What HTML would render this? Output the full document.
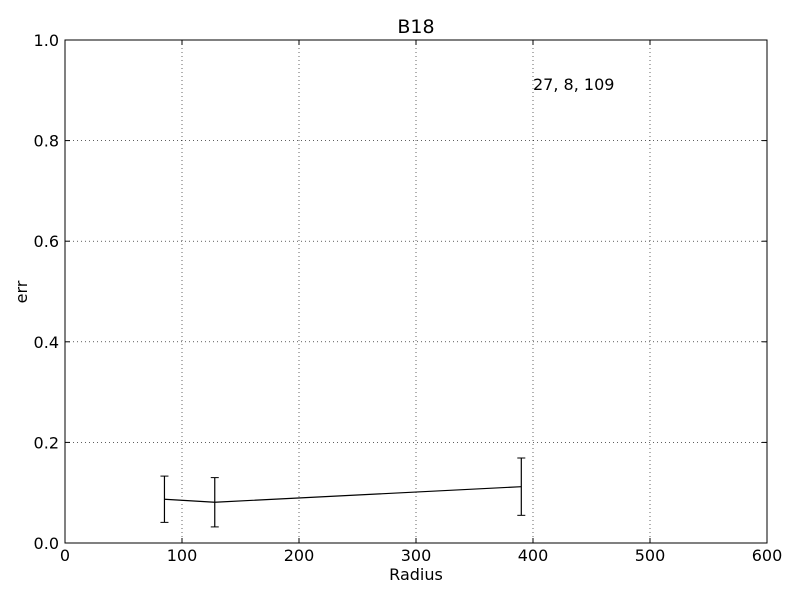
<!DOCTYPE html>
<html><head><meta charset="utf-8"><style>
body{margin:0;background:#fff;}
svg{display:block;font-family:"DejaVu Sans","Liberation Sans",sans-serif;}
</style></head><body>
<svg id="chart" width="800" height="600">
<rect width="800" height="600" fill="#fff"/>
<g id="grid"></g>
<g id="ticks"></g>
<g id="series"></g>
<rect x="65" y="40" width="702" height="503" fill="none" stroke="#000" stroke-width="1"/>
<text x="416" y="33" font-size="19" text-anchor="middle">B18</text>
<text x="416" y="580" font-size="16" text-anchor="middle">Radius</text>
<text x="27" y="292" font-size="16" text-anchor="middle" transform="rotate(-90 27 292)">err</text>
<text x="533" y="90" font-size="16">27, 8, 109</text>
</svg>
<script>
const xVals=[85,128,390];
const yVals=[0.087,0.081,0.112];
const errVals=[0.046,0.049,0.057];
const xTicks=[0,100,200,300,400,500,600];
const yTicks=[0,0.2,0.4,0.6,0.8,1.0];
const yTickLabels=["0.0","0.2","0.4","0.6","0.8","1.0"];
const NS="http://www.w3.org/2000/svg";
const X=v=>65+v/600*702, Y=v=>543-v*503;
function mk(tag,attrs,parent){const e=document.createElementNS(NS,tag);for(const k in attrs)e.setAttribute(k,attrs[k]);parent.appendChild(e);return e;}
const grid=document.getElementById('grid'),ticks=document.getElementById('ticks'),series=document.getElementById('series');
xTicks.forEach(t=>{const x=X(t);
 if(t>0&&t<600){const g=mk('line',{x1:x,x2:x,y1:40,y2:543,stroke:'#000','stroke-width':0.6,'stroke-dasharray':'1,3'},grid);}
 mk('line',{x1:x,x2:x,y1:543,y2:538,stroke:'#000'},ticks);mk('line',{x1:x,x2:x,y1:40,y2:45,stroke:'#000'},ticks);
 const l=mk('text',{x:x,y:561,'font-size':16,'text-anchor':'middle'},ticks);l.textContent=t;
 });
yTicks.forEach((t,i)=>{const y=Y(t);
 if(t>0&&t<1){const g=mk('line',{x1:65,x2:767,y1:y,y2:y,stroke:'#000','stroke-width':0.6,'stroke-dasharray':'1,3'},grid);}
 mk('line',{x1:65,x2:70,y1:y,y2:y,stroke:'#000'},ticks);mk('line',{x1:767,x2:762,y1:y,y2:y,stroke:'#000'},ticks);
 const l=mk('text',{x:59,y:y+6,'font-size':16,'text-anchor':'end'},ticks);l.textContent=yTickLabels[i];
 });
const pl=mk('polyline',{points:xVals.map((v,i)=>X(v)+','+Y(yVals[i])).join(' '),fill:'none',stroke:'#000','stroke-width':1.2},series);

xVals.forEach((v,i)=>{const x=X(v),t=Y(yVals[i]+errVals[i]),b=Y(yVals[i]-errVals[i]);
 const g=mk('g',{},series);
 mk('line',{x1:x,x2:x,y1:t,y2:b,stroke:'#000','stroke-width':1.2},g);
 mk('line',{x1:x-4,x2:x+4,y1:t,y2:t,stroke:'#000'},g);
 mk('line',{x1:x-4,x2:x+4,y1:b,y2:b,stroke:'#000'},g);});
</script>
</body></html>
